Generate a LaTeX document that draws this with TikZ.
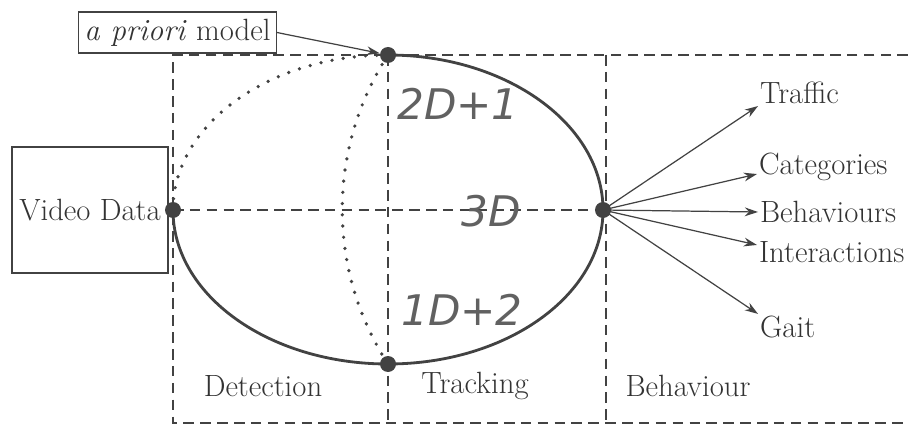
\documentclass[tikz,border=0pt]{standalone}
\usepackage{fontspec}
\newfontfamily\dimfont{DejaVu Sans}
\usetikzlibrary{arrows.meta}
\definecolor{ink}{gray}{0.26}
\definecolor{txt}{gray}{0.2}
\begin{document}
\begin{tikzpicture}[every node/.style={font=\fontsize{17.5}{21}\selectfont,text=txt},
  dot/.style={circle,fill=ink,inner sep=0pt,minimum size=0.32cm},
  frame/.style={ink,line width=1.4pt,dash pattern=on 6pt off 3.6pt},
  orbit/.style={ink,line width=1.6pt},
  hint/.style={ink,line width=2.1pt,line cap=round,dash pattern=on 0pt off 6.4pt},
  dimlbl/.style={font=\dimfont\itshape\fontsize{24}{28}\selectfont,text=black!62},
  outlbl/.style={anchor=west,inner sep=1pt},
  feed/.style={ink,line width=0.7pt,-{Stealth[length=7.5pt,width=5pt]}}]
\useasboundingbox (0,0) rectangle (18.16,8.54);
% stage frame
\draw[frame] (18.16,7.44) -- (3.46,7.44) -- (3.46,0.08) -- (18.16,0.08);
\draw[frame] (7.76,7.44) -- (7.76,0.08);
\draw[frame] (12.12,7.44) -- (12.12,0.08);
\node (det) at (5.26,0.82) {Detection};
\node (trk) at (9.50,0.82) {Tracking};
\node (beh) at (13.76,0.82) {Behaviour};
% inputs
\node[draw=ink,line width=1.2pt,minimum width=3.12cm,minimum height=2.52cm] (video) at (1.80,4.34) {Video Data};
\node[draw=ink,line width=0.6pt,minimum width=3.82cm,minimum height=0.82cm] (prior) at (3.55,7.89) {\textit{a priori} model};
% route points
\node[dot] (L) at (3.46,4.34) {};
\node[dot] (T) at (7.76,7.44) {};
\node[dot] (B) at (7.76,1.26) {};
\node[dot] (R) at (12.06,4.34) {};
\draw[orbit] (T.center) to[out=0,in=90,out distance=2.37cm,in distance=1.71cm] (R.center);
\draw[orbit] (B.center) to[out=0,in=270,out distance=2.37cm,in distance=1.71cm] (R.center);
\draw[orbit] (L.center) to[out=270,in=180,out distance=1.71cm,in distance=2.37cm] (B.center);
\draw[hint] (L.center) to[out=90,in=180,out distance=1.71cm,in distance=2.37cm] (T.center);
\draw[hint] (T.center) to[out=237,in=123,distance=2.24cm] (B.center);
\draw[frame] (L.center) -- (R.center);
\node[dimlbl] (d21) at (9.16,6.46) {2D+1};
\node[dimlbl] (d3) at (9.82,4.32) {3D};
\node[dimlbl] (d12) at (9.24,2.34) {1D+2};
\draw[feed] (prior.east) -- (T);
% outputs
\node[outlbl] (traffic) at (15.16,6.68) {Traffic};
\node[outlbl] (categ) at (15.14,5.20) {Categories};
\node[outlbl] (behav) at (15.16,4.30) {Behaviours};
\node[outlbl] (inter) at (15.14,3.50) {Interactions};
\node[outlbl] (gait) at (15.16,2.00) {Gait};
\draw[feed] (R.center) -- (traffic.south west);
\draw[feed] (R.center) -- ([yshift=-4pt]categ.west);
\draw[feed] (R.center) -- (behav.west);
\draw[feed] (R.center) -- ([yshift=4pt]inter.west);
\draw[feed] (R.center) -- (gait.north west);
\end{tikzpicture}
\end{document}
